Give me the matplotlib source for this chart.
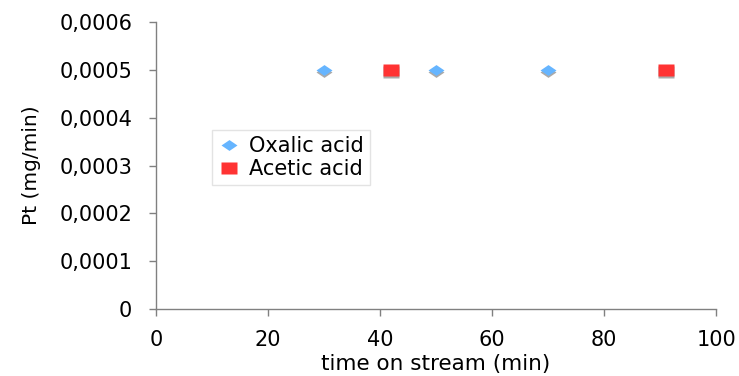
import matplotlib
matplotlib.use("Agg")
import matplotlib.pyplot as plt
from matplotlib.path import Path
from matplotlib.ticker import FuncFormatter
import matplotlib.transforms as mtransforms

# data
oxalic_t = [30, 50, 70]
oxalic_pt = [0.0005, 0.0005, 0.0005]
acetic_t = [42, 91]
acetic_pt = [0.0005, 0.0005]

yticks = [0, 0.0001, 0.0002, 0.0003, 0.0004, 0.0005, 0.0006]
xticks = [0, 20, 40, 60, 80, 100]

blue = "#66b5ff"
red = "#ff3333"

# flattened diamond and a wide square like the excel markers
diamond = Path([(-1, 0), (0, 0.68), (1, 0), (0, -0.68), (-1, 0)],
               [Path.MOVETO, Path.LINETO, Path.LINETO, Path.LINETO, Path.CLOSEPOLY])
square = Path([(-1, -0.75), (1, -0.75), (1, 0.75), (-1, 0.75), (-1, -0.75)],
              [Path.MOVETO, Path.LINETO, Path.LINETO, Path.LINETO, Path.CLOSEPOLY])

fig = plt.figure(figsize=(7.39, 3.76), dpi=100)
ax = fig.add_axes([0.211, 0.178, 0.758, 0.763])

# little gray shadow under each marker
shadow = mtransforms.offset_copy(ax.transData, fig=fig, x=0, y=-2.5, units="dots")
ax.plot(oxalic_t, oxalic_pt, ls="none", marker=diamond, ms=11.5, color="#aaaaaa", mec="none", transform=shadow)
ax.plot(acetic_t, acetic_pt, ls="none", marker=square, ms=11, color="#aaaaaa", mec="none", transform=shadow)

ax.plot(oxalic_t, oxalic_pt, ls="none", marker=diamond, ms=11.5, color=blue, mec="none", label="Oxalic acid")
ax.plot(acetic_t, acetic_pt, ls="none", marker=square, ms=11, color=red, mec="none", label="Acetic acid")

ax.set_xlim(0, 100)
ax.set_ylim(0, 0.0006)
ax.set_xticks(xticks)
ax.set_yticks(yticks)

def comma(v, pos):
    if v == 0:
        return "0"
    return ("%.4f" % v).replace(".", ",")

ax.yaxis.set_major_formatter(FuncFormatter(comma))
ax.xaxis.set_major_formatter(FuncFormatter(lambda v, p: "%d" % v))

for s in ["top", "right"]:
    ax.spines[s].set_visible(False)
for s in ["left", "bottom"]:
    ax.spines[s].set_color("#808080")
    ax.spines[s].set_linewidth(1)

ax.tick_params(axis="both", colors="#808080", labelcolor="black", labelsize=15, length=5, width=1)
ax.tick_params(axis="y", pad=12)
ax.tick_params(axis="x", pad=10)

ax.set_xlabel("time on stream (min)", fontsize=15.5, labelpad=3)
ax.set_ylabel("Pt (mg/min)", fontsize=14.5, labelpad=13)

leg = ax.legend(loc="upper left", bbox_to_anchor=(0.1, 0.625), fontsize=15, frameon=True,
                fancybox=False, edgecolor="#dddddd", handletextpad=0.5, borderpad=0.3,
                labelspacing=0.15, handlelength=1.0, markerscale=1.0, borderaxespad=0)
leg.get_frame().set_linewidth(1)

fig.savefig("out.png", dpi=100)
